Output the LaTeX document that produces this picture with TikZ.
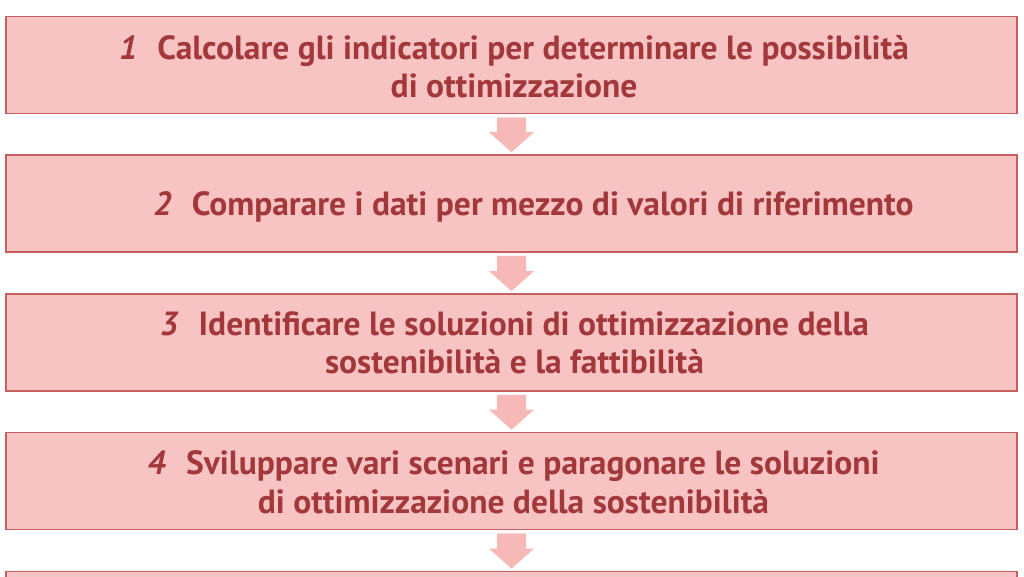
\documentclass[tikz,border=0pt]{standalone}
\usepackage{fontspec}
\setmainfont{PT Sans}
\usetikzlibrary{calc}
\definecolor{boxfill}{HTML}{F8C3C3}
\definecolor{boxline}{HTML}{C55F60}
\definecolor{arrfill}{HTML}{F7B8B8}
\definecolor{txtred}{HTML}{A3383B}
\tikzset{
  stepbox/.style={draw=boxline,fill=boxfill,line width=1.8pt,
    minimum width=1011pt,minimum height=97pt,inner sep=0pt},
  steptext/.style={inner sep=0pt,align=center,text=txtred,
    font=\fontsize{33.5}{38.5}\selectfont\bfseries},
  flowarrow/.style={fill=arrfill,draw=none}
}
\newcommand{\stepnum}[1]{\textit{#1}\hspace{0.6em}}
\newcommand{\fatarrow}[2]{%
  \path[flowarrow] ($(#1.south)+(-14.5,3)$) -- ($(#1.south)+(14.5,3)$)
    -- ($(#2.north)+(14.5,-22)$) -- ($(#2.north)+(22.5,-22)$)
    -- ($(#2.north)+(0,-2)$) -- ($(#2.north)+(-22.5,-22)$)
    -- ($(#2.north)+(-14.5,-22)$) -- cycle;}
\begin{document}
\begin{tikzpicture}[x=1pt,y=-1pt]
\useasboundingbox (0,0) rectangle (1024,577);
\clip (0,0) rectangle (1024,577);
\fill[white] (0,0) rectangle (1024,577);
\node[stepbox] (b1) at (511.5,65) {};
\node[stepbox] (b2) at (511.5,203.5) {};
\node[stepbox] (b3) at (511.5,342.5) {};
\node[stepbox] (b4) at (511.5,481) {};
\node[stepbox] (b5) at (511.5,620) {};
\node[steptext] (t1) at ($(b1.center)+(2.5,1.5)$) {\stepnum{1}Calcolare gli indicatori per determinare le possibilità\\di ottimizzazione};
\node[steptext] (t2) at ($(b2.center)+(22,3)$) {\stepnum{2}Comparare i dati per mezzo di valori di riferimento};
\node[steptext] (t3) at ($(b3.center)+(3,0.5)$) {\stepnum{3}Identificare le soluzioni di ottimizzazione della\\sostenibilità e la fattibilità};
\node[steptext] (t4) at ($(b4.center)+(2,1.5)$) {\stepnum{4}Sviluppare vari scenari e paragonare le soluzioni\\di ottimizzazione della sostenibilità};
\fatarrow{b1}{b2}
\fatarrow{b2}{b3}
\fatarrow{b3}{b4}
\fatarrow{b4}{b5}
\end{tikzpicture}
\end{document}
